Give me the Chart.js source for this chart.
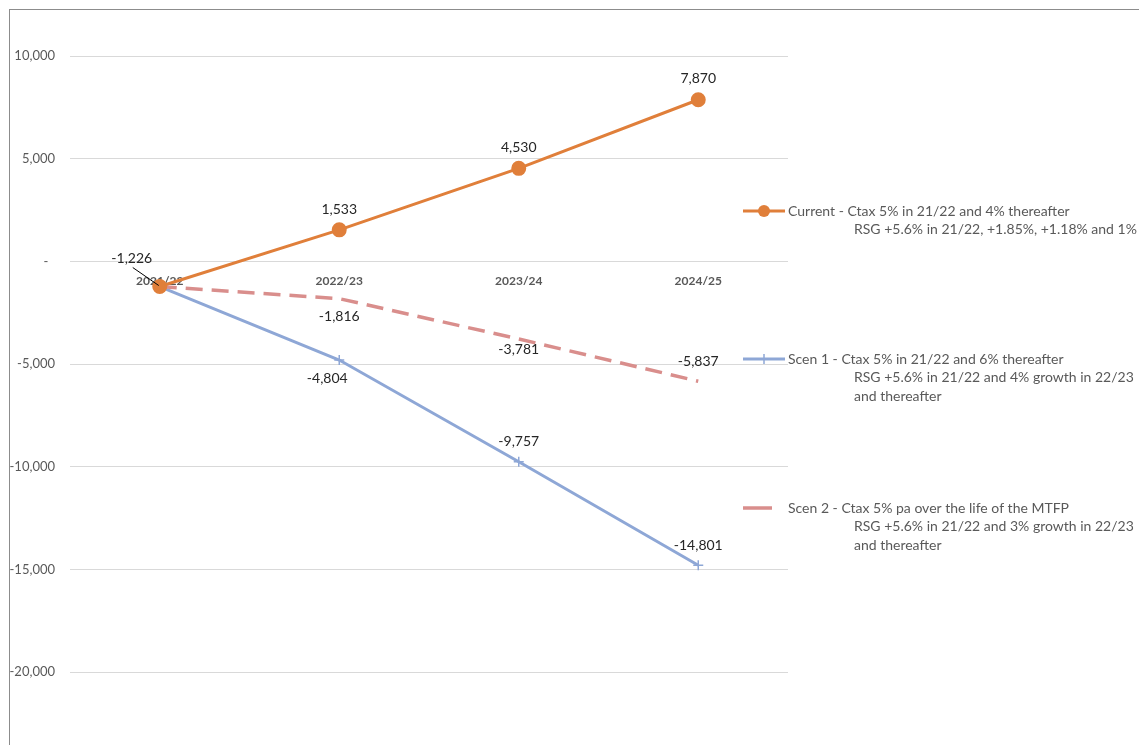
<!DOCTYPE html>
<html>
<head>
<meta charset="utf-8">
<script src="https://cdn.jsdelivr.net/npm/chart.js@4"></script>
<style>
  body { margin: 0; background: #fff; overflow: hidden; }
  #frame { position: absolute; left: 9px; top: 9px; width: 1200px; height: 800px;
           border-top: 1px solid #8c8c8c; border-left: 1px solid #8c8c8c; }
  #wrap { position: absolute; left: 0; top: 0; width: 1139px; height: 800px; }
</style>
</head>
<body>
<div id="frame"></div>
<div id="wrap"><canvas id="myChart"></canvas></div>
<script>
// years on the x axis
const categories = ['2021/22', '2022/23', '2023/24', '2024/25'];

// cumulative gap per scenario
const currentValues = [-1226, 1533, 4530, 7870];
const scen1Values = [-1226, -4804, -9757, -14801];
const scen2Values = [-1226, -1816, -3781, -5837];

// y axis range
const yMin = -25000;
const yMax = 10000;
const yStep = 5000;

// legend wording, one entry per line
const currentLegend = ['Current - Ctax 5% in 21/22 and 4% thereafter',
  'RSG +5.6% in 21/22, +1.85%, +1.18% and 1%'];
const scen1Legend = ['Scen 1 - Ctax 5% in 21/22 and 6% thereafter',
  'RSG +5.6% in 21/22 and 4% growth in 22/23', 'and thereafter'];
const scen2Legend = ['Scen 2 - Ctax 5% pa over the life of the MTFP',
  'RSG +5.6% in 21/22 and 3% growth in 22/23', 'and thereafter'];

const FONT = 'Lato, "Open Sans", sans-serif';
const orange = '#E07F3A';
const blue = '#8EA7D6';
const pink = '#D98E8C';

const fmt = v => v.toLocaleString('en-US');

// value labels, offset from each point; null = no label
const labelSpots = [
  [[-28, -28, true], [0, -20], [0, -21], [0, -21]],
  [null, [-12, 18], [0, -20], [0, -20]],
  [null, [0, 18], [0, 11], [0, -20]]
];

const valueLabels = {
  id: 'valueLabels',
  afterDatasetsDraw(chart) {
    const ctx = chart.ctx;
    ctx.save();
    ctx.font = '14px ' + FONT;
    ctx.fillStyle = '#262626';
    ctx.textAlign = 'center';
    ctx.textBaseline = 'middle';
    chart.data.datasets.forEach((ds, i) => {
      const meta = chart.getDatasetMeta(i);
      meta.data.forEach((pt, j) => {
        const spot = labelSpots[i][j];
        if (!spot) return;
        const x = pt.x + spot[0], y = pt.y + spot[1];
        ctx.fillText(fmt(ds.data[j]), x, y);
        if (spot[2]) {
          // leader line back to the point
          ctx.strokeStyle = '#000';
          ctx.lineWidth = 1;
          ctx.beginPath();
          ctx.moveTo(x + 1, y + 9);
          ctx.lineTo(pt.x - 1, pt.y - 1);
          ctx.stroke();
        }
      });
    });
    ctx.restore();
  }
};

// legend drawn to the right of the plot, with wrapped lines
const sideLegend = {
  id: 'sideLegend',
  afterDraw(chart) {
    const ctx = chart.ctx;
    const x0 = chart.chartArea.right - 45;
    const items = [
      { lines: currentLegend, y: 211, ds: 0 },
      { lines: scen1Legend, y: 359, ds: 1 },
      { lines: scen2Legend, y: 508, ds: 2 }
    ];
    ctx.save();
    items.forEach(item => {
      const ds = chart.data.datasets[item.ds];
      ctx.strokeStyle = ds.borderColor;
      ctx.lineWidth = ds.borderWidth;
      ctx.beginPath();
      if (item.ds === 2) {
        ctx.moveTo(x0, item.y);
        ctx.lineTo(x0 + 29, item.y);
      } else {
        ctx.moveTo(x0, item.y);
        ctx.lineTo(x0 + 42, item.y);
      }
      ctx.stroke();
      if (item.ds === 0) {
        ctx.fillStyle = ds.backgroundColor;
        ctx.beginPath();
        ctx.arc(x0 + 21, item.y, ds.pointRadius, 0, Math.PI * 2);
        ctx.fill();
      } else if (item.ds === 1) {
        ctx.lineWidth = 1.5;
        ctx.beginPath();
        ctx.moveTo(x0 + 21, item.y - 5);
        ctx.lineTo(x0 + 21, item.y + 5);
        ctx.stroke();
      }
      ctx.font = '14px ' + FONT;
      ctx.fillStyle = '#595959';
      ctx.textAlign = 'left';
      ctx.textBaseline = 'middle';
      item.lines.forEach((line, k) => {
        const tx = k === 0 ? x0 + 45 : x0 + 111;
        ctx.fillText(line, tx, item.y + k * 18.5);
      });
    });
    ctx.restore();
  }
};

const ctx = document.getElementById('myChart');

new Chart(ctx, {
  type: 'line',
  data: {
    labels: categories,
    datasets: [
      {
        label: currentLegend[0],
        data: currentValues,
        borderColor: orange,
        backgroundColor: orange,
        borderWidth: 3,
        pointStyle: 'circle',
        pointRadius: 6,
        order: 0
      },
      {
        label: scen1Legend[0],
        data: scen1Values,
        borderColor: blue,
        backgroundColor: blue,
        borderWidth: 3,
        pointStyle: 'cross',
        pointRadius: 5,
        pointBorderWidth: 1.5,
        order: 2
      },
      {
        label: scen2Legend[0],
        data: scen2Values,
        borderColor: pink,
        backgroundColor: pink,
        borderWidth: 3.5,
        borderDash: [17, 9],
        pointRadius: 0,
        order: 1
      }
    ]
  },
  options: {
    responsive: true,
    maintainAspectRatio: false,
    animation: false,
    layout: { padding: { left: 0, top: 56, right: 351, bottom: 25.3 } },
    plugins: {
      legend: { display: false },
      tooltip: { enabled: false }
    },
    scales: {
      x: {
        position: { y: 0 },
        offset: true,
        grid: { display: false, drawTicks: false },
        border: { display: false },
        ticks: {
          padding: 13,
          color: '#595959',
          font: { family: FONT, size: 12, weight: 'bold' }
        }
      },
      y: {
        min: yMin,
        max: yMax,
        afterFit: scale => { scale.width = 70; },
        grid: { color: '#D9D9D9', lineWidth: 1, drawTicks: false },
        border: { display: false },
        ticks: {
          stepSize: yStep,
          padding: 15,
          color: '#595959',
          font: { family: FONT, size: 13 },
          callback: v => v === 0 ? '-  ' : fmt(v)
        }
      }
    }
  },
  plugins: [valueLabels, sideLegend]
});
</script>
</body>
</html>
